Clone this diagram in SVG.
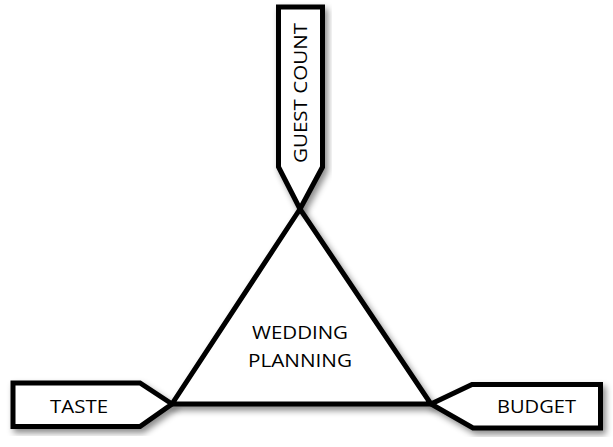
<svg xmlns="http://www.w3.org/2000/svg" width="613" height="447" viewBox="0 0 613 447">
<defs>
<filter id="sh" x="-20%" y="-20%" width="140%" height="140%">
<feDropShadow dx="3" dy="4" stdDeviation="3" flood-color="#000" flood-opacity="0.45"/>
</filter>
</defs>
<style>
.shape{fill:#fff;stroke:#000;stroke-width:5;stroke-linejoin:miter;filter:url(#sh)}
.tri{fill:#fff;stroke:#000;stroke-width:5;stroke-linejoin:miter;filter:url(#sh)}
.lbl{font-family:"Open Sans","Liberation Sans",sans-serif;font-size:19px;fill:#000}
</style>
<rect width="613" height="447" fill="#fff"/>
<g id="wedding-planning">
<polygon class="tri" points="300,209 172,404 431,404"/>
<text class="lbl" x="300" y="339" text-anchor="middle" textLength="96" lengthAdjust="spacingAndGlyphs">WEDDING</text>
<text class="lbl" x="300" y="367" text-anchor="middle" textLength="104" lengthAdjust="spacingAndGlyphs">PLANNING</text>
</g>
<g id="guest-count">
<polygon class="shape" points="278.5,7 322.5,7 322.5,167 300,209 278.5,167"/>
<text class="lbl" transform="translate(307,93) rotate(-90)" text-anchor="middle" textLength="140" lengthAdjust="spacingAndGlyphs">GUEST COUNT</text>
</g>
<g id="taste">
<polygon class="shape" points="13,383 140,383 172,404 140,426.5 13,426.5"/>
<text class="lbl" x="79" y="413" text-anchor="middle" textLength="58" lengthAdjust="spacingAndGlyphs">TASTE</text>
</g>
<g id="budget">
<polygon class="shape" points="472,384.5 600.5,384.5 600.5,428 473,428 431,404"/>
<text class="lbl" x="536.5" y="413" text-anchor="middle" textLength="79" lengthAdjust="spacingAndGlyphs">BUDGET</text>
</g>
<g id="connectors"></g>
</svg>
